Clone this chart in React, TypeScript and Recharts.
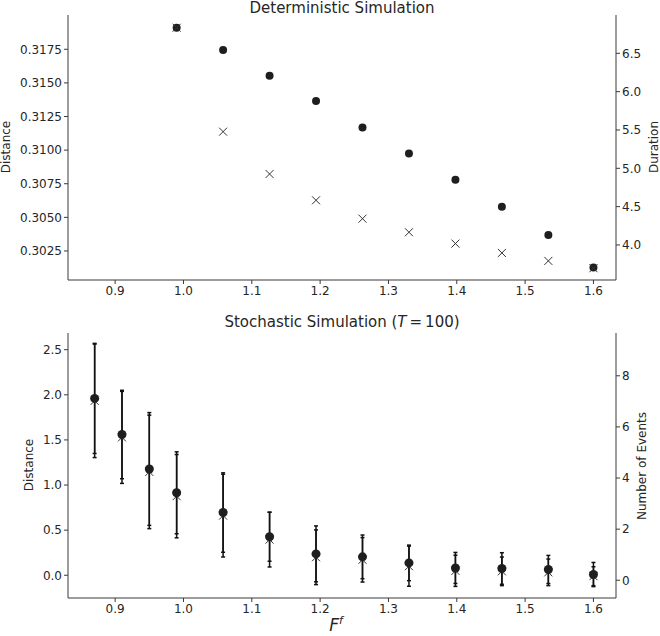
import React from "react";
import {
  ScatterChart,
  Scatter,
  XAxis,
  YAxis,
  ErrorBar,
} from "recharts";

// x values (F^f)
const detF = [0.99, 1.058, 1.126, 1.194, 1.262, 1.33, 1.398, 1.466, 1.534, 1.6];
const detDistance = [0.3191, 0.31745, 0.31554, 0.31365, 0.31169, 0.30974, 0.30779, 0.30579, 0.30369, 0.30127];
const detDuration = [6.834, 5.478, 4.926, 4.583, 4.343, 4.166, 4.018, 3.896, 3.792, 3.697];

const stoF = [0.87, 0.91, 0.95, 0.99, 1.058, 1.126, 1.194, 1.262, 1.33, 1.398, 1.466, 1.534, 1.6];
const stoDistance = [1.96, 1.56, 1.178, 0.914, 0.695, 0.427, 0.237, 0.204, 0.137, 0.081, 0.075, 0.064, 0.008];
const stoDistanceErr = [0.61, 0.49, 0.625, 0.454, 0.44, 0.272, 0.31, 0.242, 0.197, 0.172, 0.175, 0.156, 0.134];
const stoEvents = [7.02, 5.59, 4.24, 3.29, 2.53, 1.59, 0.9, 0.8, 0.55, 0.37, 0.35, 0.31, 0.16];
const stoEventsErr = [2.22, 1.8, 2.22, 1.63, 1.62, 1.07, 1.07, 0.87, 0.785, 0.61, 0.56, 0.52, 0.37];

const fTicks = [0.9, 1.0, 1.1, 1.2, 1.3, 1.4, 1.5, 1.6];
const detDistTicks = [0.3025, 0.305, 0.3075, 0.31, 0.3125, 0.315, 0.3175];
const detDurTicks = [4.0, 4.5, 5.0, 5.5, 6.0, 6.5];
const stoDistTicks = [0.0, 0.5, 1.0, 1.5, 2.0, 2.5];
const stoEventTicks = [0, 2, 4, 6, 8];

const detRows = detF.map((f, i) => ({ f, dist: detDistance[i], dur: detDuration[i] }));
const stoRows = stoF.map((f, i) => ({
  f,
  dist: stoDistance[i],
  distErr: stoDistanceErr[i],
  ev: stoEvents[i],
  evErr: stoEventsErr[i],
}));

const FONT = "'DejaVu Sans', sans-serif";
const INK = "#262626";
const AXIS = "#3a3a3a";
const tickStyle = { fontSize: 12, fill: INK, fontFamily: FONT };

const Dot = (props: any) => <circle cx={props.cx} cy={props.cy} r={4} fill="#1e1e1e" />;
const BigDot = (props: any) => <circle cx={props.cx} cy={props.cy} r={4.5} fill="#1e1e1e" />;

const Cross = (props: any) => {
  const { cx, cy } = props;
  const s = 4;
  return (
    <g stroke="#333" strokeWidth={1}>
      <line x1={cx - s} y1={cy - s} x2={cx + s} y2={cy + s} />
      <line x1={cx - s} y1={cy + s} x2={cx + s} y2={cy - s} />
    </g>
  );
};

const VLabel = ({ x, y, text }: { x: number; y: number; text: string }) => (
  <div
    style={{
      position: "absolute",
      left: x,
      top: y,
      transform: "translate(-50%, -50%) rotate(-90deg)",
      fontSize: 12,
      fontFamily: FONT,
      color: INK,
      whiteSpace: "nowrap",
    }}
  >
    {text}
  </div>
);

const Title = ({ y, children }: { y: number; children: React.ReactNode }) => (
  <div
    style={{
      position: "absolute",
      left: 342,
      top: y,
      transform: "translateX(-50%)",
      fontSize: 15,
      fontFamily: FONT,
      color: INK,
      whiteSpace: "nowrap",
      lineHeight: "17px",
    }}
  >
    {children}
  </div>
);

const App: React.FC = () => {
  const xDomain = [0.831, 1.633];
  return (
    <div
      style={{
        position: "absolute",
        left: 0,
        top: 0,
        width: 660,
        height: 636,
        background: "#fff",
        fontFamily: FONT,
      }}
    >
      {/* 決定論的シミュレーション */}
      <div style={{ position: "absolute", left: 0, top: 0 }}>
        <ScatterChart width={660} height={300} margin={{ top: 15, right: 0, bottom: 0, left: 0 }}>
          <XAxis
            type="number"
            dataKey="f"
            domain={xDomain}
            ticks={fTicks}
            allowDataOverflow
            height={20}
            tickSize={4}
            tick={tickStyle}
            tickFormatter={(v) => v.toFixed(1)}
            stroke={AXIS}
          />
          <XAxis xAxisId="top" orientation="top" type="number" dataKey="f" domain={xDomain} allowDataOverflow height={0} tick={false} tickLine={false} stroke={AXIS} />
          <YAxis
            yAxisId="left"
            type="number"
            dataKey="dist"
            domain={[0.30034, 0.32005]}
            ticks={detDistTicks}
            allowDataOverflow
            width={68}
            tickSize={4}
            tick={tickStyle}
            tickFormatter={(v) => v.toFixed(4)}
            stroke={AXIS}
          />
          <YAxis
            yAxisId="right"
            orientation="right"
            type="number"
            dataKey="dur"
            domain={[3.543, 7.0]}
            ticks={detDurTicks}
            allowDataOverflow
            width={44}
            tickSize={4}
            tick={tickStyle}
            tickFormatter={(v) => v.toFixed(1)}
            stroke={AXIS}
          />
          <Scatter data={detRows} yAxisId="left" shape={Dot} isAnimationActive={false} />
          <Scatter data={detRows} yAxisId="right" shape={Cross} isAnimationActive={false} />
        </ScatterChart>
      </div>

      {/* 確率的シミュレーション */}
      <div style={{ position: "absolute", left: 0, top: 300 }}>
        <ScatterChart width={660} height={336} margin={{ top: 33, right: 0, bottom: 0, left: 0 }}>
          <XAxis
            type="number"
            dataKey="f"
            domain={xDomain}
            ticks={fTicks}
            allowDataOverflow
            height={38}
            tickSize={4}
            tick={tickStyle}
            tickFormatter={(v) => v.toFixed(1)}
            stroke={AXIS}
          />
          <XAxis xAxisId="top" orientation="top" type="number" dataKey="f" domain={xDomain} allowDataOverflow height={0} tick={false} tickLine={false} stroke={AXIS} />
          <YAxis
            yAxisId="left"
            type="number"
            dataKey="dist"
            domain={[-0.252, 2.685]}
            ticks={stoDistTicks}
            allowDataOverflow
            width={68}
            tickSize={4}
            tick={tickStyle}
            tickFormatter={(v) => v.toFixed(1)}
            stroke={AXIS}
          />
          <YAxis
            yAxisId="right"
            orientation="right"
            type="number"
            dataKey="ev"
            domain={[-0.694, 9.674]}
            ticks={stoEventTicks}
            allowDataOverflow
            width={44}
            tickSize={4}
            tick={tickStyle}
            stroke={AXIS}
          />
          <Scatter data={stoRows} yAxisId="right" shape={Cross} isAnimationActive={false}>
            <ErrorBar dataKey="evErr" direction="y" width={2} stroke="#111" strokeWidth={1.5} />
          </Scatter>
          <Scatter data={stoRows} yAxisId="left" shape={BigDot} isAnimationActive={false}>
            <ErrorBar dataKey="distErr" direction="y" width={2} stroke="#111" strokeWidth={1.5} />
          </Scatter>
        </ScatterChart>
      </div>

      <Title y={0}>Deterministic Simulation</Title>
      <Title y={314}>
        Stochastic Simulation (<i>T</i>&thinsp;=&thinsp;100)
      </Title>

      <VLabel x={6} y={147} text="Distance" />
      <VLabel x={654} y={147} text="Duration" />
      <VLabel x={29} y={465} text="Distance" />
      <VLabel x={642} y={466} text="Number of Events" />

      <div
        style={{
          position: "absolute",
          left: 336,
          top: 614,
          transform: "translateX(-50%)",
          fontSize: 17,
          fontStyle: "italic",
          fontFamily: FONT,
          color: INK,
          whiteSpace: "nowrap",
        }}
      >
        F<sup style={{ fontSize: 11 }}>f</sup>
      </div>
    </div>
  );
};

export default App;
